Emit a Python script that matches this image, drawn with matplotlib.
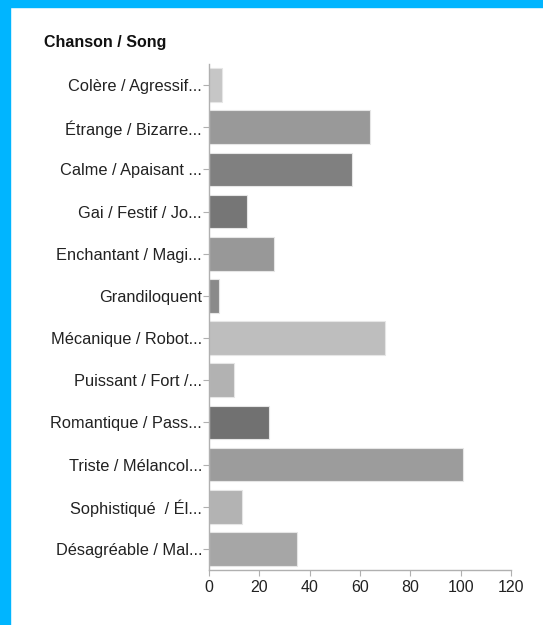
import matplotlib
matplotlib.use("Agg")
import matplotlib.pyplot as plt
from matplotlib.patches import Rectangle

plt.rcParams['font.family'] = ['Liberation Sans', 'DejaVu Sans']

categories = [
    "Colère / Agressif...",
    "Étrange / Bizarre...",
    "Calme / Apaisant ...",
    "Gai / Festif / Jo...",
    "Enchantant / Magi...",
    "Grandiloquent",
    "Mécanique / Robot...",
    "Puissant / Fort /...",
    "Romantique / Pass...",
    "Triste / Mélancol...",
    "Sophistiqué  / Él...",
    "Désagréable / Mal...",
]
values = [5, 64, 57, 15, 26, 4, 70, 10, 24, 101, 13, 35]
bar_colors = ["#c6c6c6", "#999999", "#808080", "#767676", "#989898", "#8a8a8a",
              "#bebebe", "#b2b2b2", "#717171", "#9c9c9c", "#b3b3b3", "#a6a6a6"]
xticks = [0, 20, 40, 60, 80, 100, 120]
title = "Chanson / Song"

W, H = 543, 625
fig = plt.figure(figsize=(W / 100, H / 100), dpi=100)
fig.patch.set_facecolor("white")

# blue frame
fig.patches.append(Rectangle((0, 1 - 7 / H), 1, 7 / H, transform=fig.transFigure,
                             color="#00B5FF", zorder=0))
fig.patches.append(Rectangle((0, 0), 9.5 / W, 1, transform=fig.transFigure,
                             color="#00B5FF", zorder=0))

ax = fig.add_axes([209 / W, 1 - 570 / H, (511 - 209) / W, (570 - 64) / H])
y = list(range(len(categories)))
ax.barh(y, values, height=0.8, color=bar_colors, edgecolor="#e6e6e6", linewidth=0.8)
ax.set_ylim(len(categories) - 0.5, -0.5)
ax.set_xlim(0, 120)
ax.set_yticks(y)
ax.set_yticklabels(categories, fontsize=11.8, color="#222222")
ax.set_xticks(xticks)
ax.set_xticklabels([str(t) for t in xticks], fontsize=11.5, color="#222222")
for s in ["top", "right"]:
    ax.spines[s].set_visible(False)
for s in ["left", "bottom"]:
    ax.spines[s].set_color("#b0b0b0")
    ax.spines[s].set_linewidth(1.0)
ax.tick_params(axis="y", length=4, color="#b0b0b0", pad=1)
ax.tick_params(axis="x", length=4, color="#b0b0b0", pad=3)

fig.text(44 / W, 1 - 42 / H, title, fontsize=11.5, fontweight="bold",
         ha="left", va="center", color="#111111")

fig.savefig("out.png", dpi=100, facecolor="white")
